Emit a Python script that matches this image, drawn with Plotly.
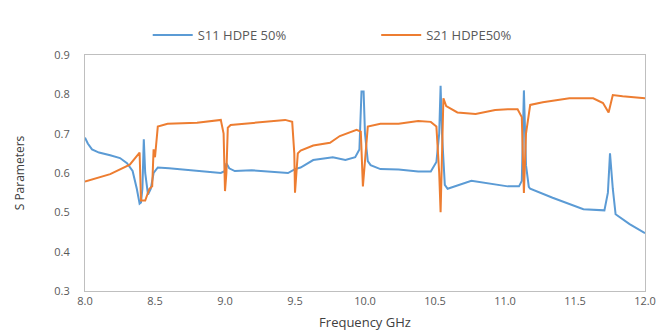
import plotly.graph_objects as go

# S11 HDPE 50%
s11_freq = [8.00, 8.02, 8.05, 8.10, 8.18, 8.25, 8.30, 8.34, 8.37, 8.39, 8.40, 8.41, 8.42, 8.43,
            8.45, 8.47, 8.49, 8.52, 8.60, 8.71, 8.83, 8.97, 9.00, 9.01, 9.03, 9.07, 9.19, 9.31,
            9.45, 9.50, 9.54, 9.63, 9.77, 9.86, 9.93, 9.96, 9.975, 9.99, 10.00, 10.02, 10.04,
            10.11, 10.24, 10.38, 10.47, 10.51, 10.53, 10.54, 10.55, 10.57, 10.59, 10.76, 10.90,
            11.02, 11.10, 11.12, 11.135, 11.15, 11.17, 11.18, 11.34, 11.56, 11.71, 11.735, 11.75,
            11.77, 11.79, 11.89, 12.00]
s11_vals = [0.690, 0.675, 0.660, 0.652, 0.645, 0.638, 0.625, 0.605, 0.560, 0.522, 0.525, 0.560,
            0.686, 0.600, 0.545, 0.560, 0.600, 0.614, 0.612, 0.609, 0.604, 0.600, 0.605, 0.625,
            0.612, 0.605, 0.607, 0.604, 0.600, 0.610, 0.614, 0.633, 0.640, 0.633, 0.640, 0.660,
            0.807, 0.807, 0.700, 0.630, 0.620, 0.610, 0.609, 0.604, 0.604, 0.628, 0.700, 0.822,
            0.700, 0.570, 0.560, 0.580, 0.572, 0.566, 0.566, 0.580, 0.810, 0.620, 0.565, 0.560,
            0.537, 0.508, 0.505, 0.550, 0.650, 0.560, 0.495, 0.470, 0.447]

# S21 HDPE50%
s21_freq = [8.00, 8.18, 8.32, 8.37, 8.39, 8.40, 8.43, 8.46, 8.48, 8.49, 8.50, 8.52, 8.59, 8.80,
            8.97, 8.99, 9.00, 9.01, 9.02, 9.04, 9.20, 9.43, 9.48, 9.495, 9.50, 9.51, 9.52, 9.54,
            9.63, 9.75, 9.82, 9.94, 9.97, 9.985, 10.00, 10.02, 10.11, 10.24, 10.38, 10.47, 10.51,
            10.53, 10.54, 10.55, 10.56, 10.58, 10.66, 10.79, 10.93, 11.02, 11.09, 11.12, 11.135,
            11.15, 11.18, 11.27, 11.46, 11.63, 11.70, 11.74, 11.77, 11.84, 12.00]
s21_vals = [0.578, 0.597, 0.621, 0.645, 0.652, 0.530, 0.530, 0.560, 0.566, 0.660, 0.640, 0.718,
            0.725, 0.728, 0.735, 0.700, 0.554, 0.600, 0.715, 0.722, 0.727, 0.735, 0.730, 0.650,
            0.550, 0.600, 0.650, 0.657, 0.670, 0.677, 0.694, 0.710, 0.705, 0.566, 0.640, 0.718,
            0.725, 0.725, 0.732, 0.730, 0.718, 0.600, 0.500, 0.650, 0.790, 0.770, 0.754, 0.750,
            0.760, 0.762, 0.762, 0.742, 0.549, 0.700, 0.773, 0.780, 0.790, 0.790, 0.778, 0.754,
            0.798, 0.795, 0.790]

x_ticks = [8.0, 8.5, 9.0, 9.5, 10.0, 10.5, 11.0, 11.5, 12.0]
y_ticks = [0.3, 0.4, 0.5, 0.6, 0.7, 0.8, 0.9]

fig = go.Figure()
fig.add_trace(go.Scatter(x=s11_freq, y=s11_vals, mode="lines", name="S11 HDPE 50%",
                         line=dict(color="#5B9BD5", width=2), legend="legend"))
fig.add_trace(go.Scatter(x=s21_freq, y=s21_vals, mode="lines", name="S21 HDPE50%",
                         line=dict(color="#ED7D31", width=2), legend="legend2"))

axis_font = dict(family="Open Sans, Arial, sans-serif", size=11, color="#595959")
leg_common = dict(orientation="h", xanchor="left", y=1.085, yanchor="middle",
                  font=dict(size=13, color="#595959"), bgcolor="rgba(0,0,0,0)",
                  itemwidth=40)
fig.update_layout(
    width=665, height=333,
    margin=dict(l=77, r=28, t=45, b=50),
    paper_bgcolor="white", plot_bgcolor="white",
    font=dict(family="Open Sans, Arial, sans-serif", color="#595959"),
    showlegend=True,
    legend=dict(x=0.112, **leg_common),
    legend2=dict(x=0.52, **leg_common),
    xaxis=dict(range=[8, 12], tickvals=x_ticks, tickformat=".1f", showgrid=False,
               zeroline=False, showline=True, linecolor="#bfbfbf", linewidth=1, mirror=True,
               ticks="", tickfont=axis_font,
               title=dict(text="Frequency GHz", font=dict(size=13, color="#404040"), standoff=10)),
    yaxis=dict(range=[0.3, 0.9], tickvals=y_ticks, tickformat=".1f", showgrid=False,
               zeroline=False, showline=True, linecolor="#bfbfbf", linewidth=1, mirror=True,
               ticks="", tickfont=axis_font, ticklabelstandoff=12,
               title=dict(text="S Parameters", font=dict(size=12, color="#404040"), standoff=27)),
)

fig.write_html("out.html")
